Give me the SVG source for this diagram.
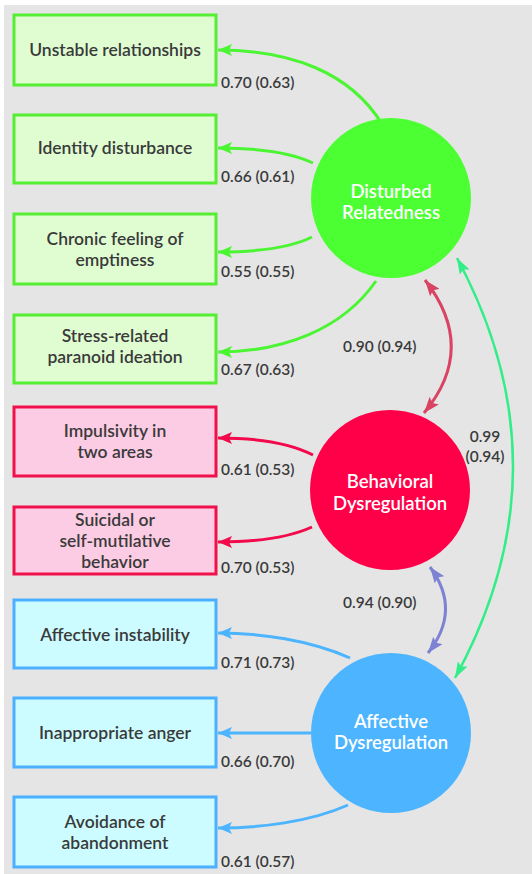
<svg xmlns="http://www.w3.org/2000/svg" width="532" height="874" viewBox="0 0 532 874">
<style>
.bt{font-family:Lato,"Open Sans",sans-serif;font-size:17.5px;font-weight:600;fill:#3a3a3a;text-anchor:middle}
.ct{font-family:Lato,"Open Sans",sans-serif;font-size:18.5px;font-weight:600;fill:#fff;text-anchor:middle}
.lb{font-family:Lato,"Open Sans",sans-serif;font-size:15.5px;font-weight:600;fill:#3a3a3a}
.g{fill:#e0fdd2;stroke:#55ee33;stroke-width:3}
.r{fill:#fccce4;stroke:#f0104c;stroke-width:3}
.b{fill:#ccfcff;stroke:#4bb0ff;stroke-width:3}
.cg{stroke:#4cf533;stroke-width:3;fill:none}
.cr{stroke:#f20a4c;stroke-width:3;fill:none}
.cb{stroke:#4db5ff;stroke-width:3;fill:none}
</style>
<defs>
<marker id="ag" viewBox="0 0 14 12" refX="14" refY="6" markerWidth="14" markerHeight="12" markerUnits="userSpaceOnUse" orient="auto-start-reverse"><path d="M0,0 L14,6 L0,12 L3,6 Z" fill="#4cf533"/></marker>
<marker id="ar" viewBox="0 0 14 12" refX="14" refY="6" markerWidth="14" markerHeight="12" markerUnits="userSpaceOnUse" orient="auto-start-reverse"><path d="M0,0 L14,6 L0,12 L3,6 Z" fill="#f20a4c"/></marker>
<marker id="ab" viewBox="0 0 14 12" refX="14" refY="6" markerWidth="14" markerHeight="12" markerUnits="userSpaceOnUse" orient="auto-start-reverse"><path d="M0,0 L14,6 L0,12 L3,6 Z" fill="#4db5ff"/></marker>
<marker id="am" viewBox="0 0 16 12" refX="16" refY="6" markerWidth="16" markerHeight="12" markerUnits="userSpaceOnUse" orient="auto-start-reverse"><path d="M0,0 L16,6 L0,12 L3,6 Z" fill="#d84462"/></marker>
<marker id="ap" viewBox="0 0 16 12" refX="16" refY="6" markerWidth="16" markerHeight="12" markerUnits="userSpaceOnUse" orient="auto-start-reverse"><path d="M0,0 L16,6 L0,12 L3,6 Z" fill="#7d82d2"/></marker>
<marker id="at" viewBox="0 0 16 11" refX="16" refY="5.5" markerWidth="16" markerHeight="11" markerUnits="userSpaceOnUse" orient="auto-start-reverse"><path d="M0,0 L16,5.5 L0,11 L3,5.5 Z" fill="#33ee88"/></marker>
</defs>
<rect width="532" height="874" fill="#fff"/>
<rect x="4" y="5" width="528" height="869" fill="#e5e5e5"/>

<g id="connectors">
<path class="cg" d="M382,124 C350,72 290,50 218,50" marker-end="url(#ag)"/>
<path class="cg" d="M313,163 C290,152 260,148 218,148" marker-end="url(#ag)"/>
<path class="cg" d="M312,237 C290,248 260,252 218,252" marker-end="url(#ag)"/>
<path class="cg" d="M376,281 C342,330 282,352 218,352" marker-end="url(#ag)"/>
<path class="cr" d="M313,455 C290,443 260,438 218,438" marker-end="url(#ar)"/>
<path class="cr" d="M312,527 C290,537 260,542 218,542" marker-end="url(#ar)"/>
<path class="cb" d="M350,658 C310,640 260,633 218,633" marker-end="url(#ab)"/>
<path class="cb" d="M311,733 L218,733" marker-end="url(#ab)"/>
<path class="cb" d="M348,805 C310,822 260,828 218,828" marker-end="url(#ab)"/>
<path d="M425,280 Q478,348 424,413" stroke="#d84462" stroke-width="3" fill="none" marker-start="url(#am)" marker-end="url(#am)"/>
<path d="M430,567 Q462,610 428,653" stroke="#7d82d2" stroke-width="3" fill="none" marker-start="url(#ap)" marker-end="url(#ap)"/>
<path d="M457,258 Q570,468 455,678" stroke="#33ee88" stroke-width="2.5" fill="none" marker-start="url(#at)" marker-end="url(#at)"/>
<text class="lb" x="221" y="88">0.70 (0.63)</text>
<text class="lb" x="221" y="182">0.66 (0.61)</text>
<text class="lb" x="221" y="277">0.55 (0.55)</text>
<text class="lb" x="221" y="375">0.67 (0.63)</text>
<text class="lb" x="221" y="475">0.61 (0.53)</text>
<text class="lb" x="221" y="573">0.70 (0.53)</text>
<text class="lb" x="221" y="668">0.71 (0.73)</text>
<text class="lb" x="221" y="767">0.66 (0.70)</text>
<text class="lb" x="221" y="867">0.61 (0.57)</text>
<text class="lb" x="343" y="352">0.90 (0.94)</text>
<text class="lb" x="343" y="608">0.94 (0.90)</text>
<text class="lb" x="485" y="442" text-anchor="middle">0.99</text>
<text class="lb" x="485" y="462" text-anchor="middle">(0.94)</text>
</g>

<g id="n1"><rect class="g" x="14" y="15" width="202" height="70"/><text class="bt" x="115" y="56">Unstable relationships</text></g>
<g id="n2"><rect class="g" x="14" y="115" width="202" height="68"/><text class="bt" x="115" y="154">Identity disturbance</text></g>
<g id="n3"><rect class="g" x="14" y="214" width="202" height="70"/><text class="bt" x="115" y="245">Chronic feeling of</text><text class="bt" x="115" y="266">emptiness</text></g>
<g id="n4"><rect class="g" x="14" y="315" width="202" height="68"/><text class="bt" x="115" y="342">Stress-related</text><text class="bt" x="115" y="363">paranoid ideation</text></g>
<g id="n5"><rect class="r" x="14" y="407" width="202" height="69"/><text class="bt" x="115" y="437">Impulsivity in</text><text class="bt" x="115" y="458">two areas</text></g>
<g id="n6"><rect class="r" x="14" y="507" width="202" height="67"/><text class="bt" x="115" y="526">Suicidal or</text><text class="bt" x="115" y="547">self-mutilative</text><text class="bt" x="115" y="568">behavior</text></g>
<g id="n7"><rect class="b" x="14" y="600" width="202" height="68"/><text class="bt" x="115" y="641">Affective instability</text></g>
<g id="n8"><rect class="b" x="14" y="698" width="202" height="69"/><text class="bt" x="115" y="739">Inappropriate anger</text></g>
<g id="n9"><rect class="b" x="14" y="797" width="202" height="70"/><text class="bt" x="115" y="828">Avoidance of</text><text class="bt" x="115" y="849">abandonment</text></g>

<g id="f1"><circle cx="391" cy="198" r="80" fill="#4cff33"/><text class="ct" x="391" y="198">Disturbed</text><text class="ct" x="391" y="219">Relatedness</text></g>
<g id="f2"><circle cx="390" cy="490" r="80" fill="#ff0048"/><text class="ct" x="390" y="488">Behavioral</text><text class="ct" x="390" y="510">Dysregulation</text></g>
<g id="f3"><circle cx="391" cy="733" r="80" fill="#4db5ff"/><text class="ct" x="391" y="728">Affective</text><text class="ct" x="391" y="749">Dysregulation</text></g>
</svg>
